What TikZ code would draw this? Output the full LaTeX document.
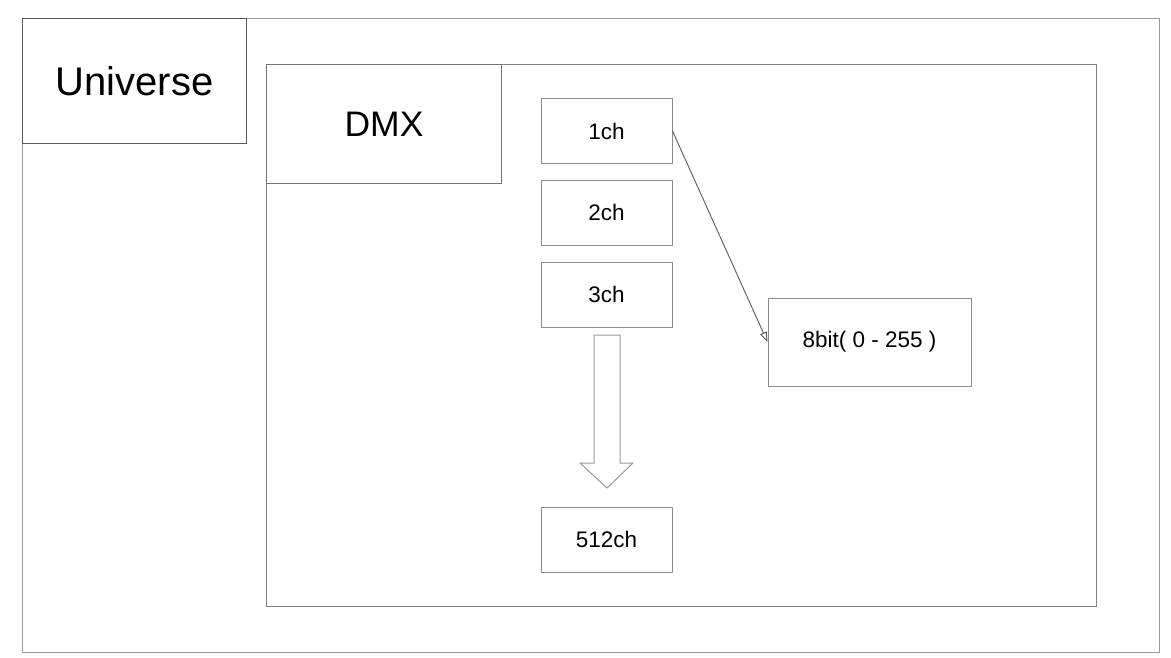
\documentclass[tikz,border=0pt]{standalone}
\usepackage{fontspec}
\setmainfont{Liberation Sans}
\usetikzlibrary{arrows.meta}
\tikzset{
  frame/.style={draw=black!40,line width=1pt},
  label box/.style={draw=black!65,line width=1pt,inner sep=0pt,anchor=north west},
  chbox/.style={draw=black!45,line width=1pt,inner sep=0pt,minimum width=131pt,minimum height=65pt,font=\fontsize{22.5}{24}\selectfont}
}
\begin{document}
\begin{tikzpicture}[x=1pt,y=-1pt]
	\useasboundingbox (0,0) rectangle (1171,657);
	% universe and dmx frames
	\draw[frame] (22,18) rectangle (1159,652);
	\draw[frame,draw=black!50] (266,64) rectangle (1096,606);
	\node[label box,minimum width=224pt,minimum height=125pt,font=\fontsize{40}{44}\selectfont] (univ) at (22,18) {Universe};
	\node[label box,draw=black!55,minimum width=235pt,minimum height=119pt,font=\fontsize{35.5}{40}\selectfont] (dmx) at (266,64) {DMX};
	% channels
	\foreach \n/\y/\t in {ch1/131/1ch, ch2/212.5/2ch, ch3/294.5/3ch, chlast/539.5/512ch}{
		\node[chbox] (\n) at (606.5,\y) {\t};
	}
	\node[chbox,minimum width=203pt,minimum height=88pt] (bit) at (869.5,342) {8bit( 0 - 255 )};
	\draw[black!65,line width=0.9pt,-{Triangle[open,length=10pt,width=7pt]}] (ch1.east) -- (bit.west);
	% big arrow
	\draw[black!40,line width=1pt,line join=miter] (594,335) -- (620,335) -- (620,463) -- (633,463) -- (607,488) -- (580,463) -- (594,463) -- cycle;
\end{tikzpicture}
\end{document}
